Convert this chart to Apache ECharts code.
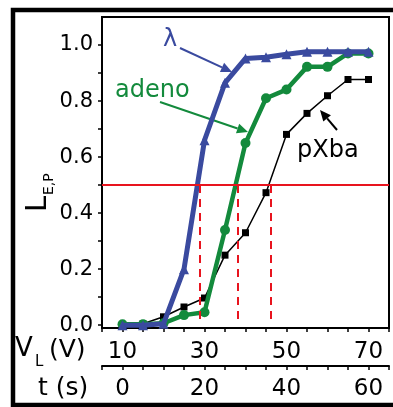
<!DOCTYPE html>
<html>
<head>
<meta charset="utf-8">
<script src="https://cdn.jsdelivr.net/npm/echarts@6/dist/echarts.min.js"></script>
<style>
  html, body { margin: 0; padding: 0; background: #fff; }
  #main { width: 393px; height: 407px; }
</style>
</head>
<body>
<div id="main"></div>
<script>
// voltage V_L (V) for every sample
const voltages = [10, 15, 20, 25, 30, 35, 40, 45, 50, 55, 60, 65, 70];
const lambdaVals = [0, 0, 0.005, 0.2, 0.66, 0.865, 0.952, 0.956, 0.967, 0.976, 0.976, 0.976, 0.976];
const adenoVals = [0.003, 0.003, 0.007, 0.036, 0.046, 0.34, 0.65, 0.81, 0.841, 0.922, 0.922, 0.97, 0.97];
const pxbaVals = [0, 0.005, 0.03, 0.065, 0.097, 0.25, 0.33, 0.473, 0.681, 0.756, 0.819, 0.877, 0.877];
// half-max level and where each curve crosses it
const halfLevel = 0.5;
const halfCross = [28.8, 38, 46.1];
const yTicks = [0, 0.1, 0.2, 0.3, 0.4, 0.5, 0.6, 0.7, 0.8, 0.9, 1.0];
const yLabels = [0, 0.2, 0.4, 0.6, 0.8, 1.0];

const BLUE = "#3a4a9f";
const GREEN = "#138a3c";
const RED = "#e8141e";
const FONT = "DejaVu Sans";

const pairs = (vals) => voltages.map((v, i) => [v, vals[i]]);

function arrow(x1, y1, x2, y2, color) {
  const a = Math.atan2(y2 - y1, x2 - x1);
  const L = 11, W = 5;
  const bx = x2 - L * Math.cos(a), by = y2 - L * Math.sin(a);
  const px = -Math.sin(a) * W, py = Math.cos(a) * W;
  return [
    { type: "line", shape: { x1: x1, y1: y1, x2: bx, y2: by }, style: { stroke: color, lineWidth: 2 } },
    { type: "polygon", shape: { points: [[x2, y2], [bx + px, by + py], [bx - px, by - py]] }, style: { fill: color } },
  ];
}

// y is the vertical middle of the text
function txt(text, x, y, size, color) {
  return {
    type: "text",
    x: x, y: y,
    style: { text: text, font: size + "px '" + FONT + "'", fill: color, align: "left", verticalAlign: "middle" },
  };
}

const myChart = echarts.init(document.getElementById("main"));

const option = {
  animation: false,
  grid: { left: 102, right: 4, top: 17, bottom: 79, show: true, borderColor: "#000", borderWidth: 2 },
  xAxis: [
    {
      type: "value", min: 5, max: 75, interval: 5,
      axisLine: { onZero: false, lineStyle: { color: "#000", width: 2 } },
      axisTick: { length: 4, lineStyle: { color: "#000", width: 1.5 } },
      splitLine: { show: false },
      axisLabel: {
        color: "#000", fontSize: 23, fontFamily: FONT, margin: 13,
        formatter: (v) => ((v - 10) % 20 === 0 ? String(v) : ""),
      },
    },
    {
      type: "value", position: "bottom", offset: 38, min: -5, max: 65, interval: 5,
      axisLine: { onZero: false, lineStyle: { color: "#000", width: 2 } },
      axisTick: { length: 4, lineStyle: { color: "#000", width: 1.5 } },
      splitLine: { show: false },
      axisLabel: {
        color: "#000", fontSize: 23, fontFamily: FONT, margin: 12,
        formatter: (v) => (v >= 0 && v % 20 === 0 ? String(v) : ""),
      },
    },
  ],
  yAxis: {
    type: "value", min: -0.01, max: 1.1,
    axisLine: { show: true, onZero: false, lineStyle: { color: "#000", width: 2 } },
    axisTick: { show: true, length: 4, customValues: yTicks, lineStyle: { color: "#000", width: 1.5 } },
    splitLine: { show: false },
    axisLabel: {
      color: "#000", fontSize: 21, fontFamily: FONT, margin: 9,
      customValues: yLabels,
      formatter: (v) => v.toFixed(1),
    },
  },
  series: [
    {
      type: "line", data: [], z: 1, silent: true,
      markLine: {
        symbol: "none", silent: true, label: { show: false },
        data: [
          { yAxis: halfLevel, lineStyle: { color: RED, width: 2, type: "solid" } },
        ].concat(halfCross.map((x) => [
          { coord: [x, halfLevel], lineStyle: { color: RED, width: 2, type: [8, 6] } },
          { coord: [x, 0.02] },
        ])),
      },
    },
    {
      name: "pXba", type: "line", data: pairs(pxbaVals), z: 2,
      symbol: "rect", symbolSize: 7, showAllSymbol: true,
      lineStyle: { color: "#000", width: 1.5 }, itemStyle: { color: "#000" },
    },
    {
      name: "adeno", type: "line", data: pairs(adenoVals), z: 3,
      symbol: "circle", symbolSize: 10, showAllSymbol: true,
      lineStyle: { color: GREEN, width: 4.5 }, itemStyle: { color: GREEN },
    },
    {
      name: "lambda", type: "line", data: pairs(lambdaVals), z: 4,
      symbol: "triangle", symbolSize: 10, showAllSymbol: true,
      lineStyle: { color: BLUE, width: 5 }, itemStyle: { color: BLUE },
    },
  ],
  graphic: [
    { type: "rect", shape: { x: 13, y: 10, width: 384, height: 395 }, style: { fill: "none", stroke: "#000", lineWidth: 4.5 } },
    txt("\u03bb", 163, 40, 24, BLUE),
    txt("adeno", 115, 91, 24, GREEN),
    txt("pXba", 297, 151, 24, "#000"),
    txt("V", 15, 349, 26, "#000"),
    txt("L", 35, 362, 15, "#000"),
    txt("(V)", 49, 350, 25, "#000"),
    txt("t (s)", 38, 388, 25, "#000"),
    {
      type: "group", x: 47, y: 212, rotation: Math.PI / 2,
      children: [
        txt("L", 0, -9, 29, "#000"),
        txt("E,P", 17, 2, 14, "#000"),
      ],
    },
  ].concat(
    arrow(180, 48, 232, 72, BLUE),
    arrow(160, 102, 248, 132, GREEN),
    arrow(337, 130, 320, 110, "#000")
  ),
};

myChart.setOption(option);
</script>
</body>
</html>
